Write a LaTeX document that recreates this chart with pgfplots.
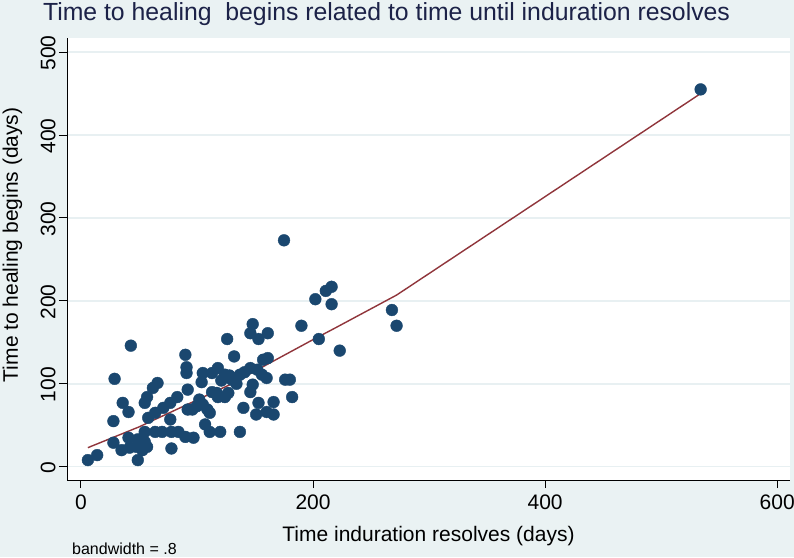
\documentclass[border=0pt]{standalone}
\usepackage{fontspec}
\setmainfont{Liberation Sans}
\usepackage{pgfplots}
\pgfplotsset{compat=1.18}
\definecolor{stbg}{RGB}{234,242,243}
\definecolor{stgrid}{RGB}{232,240,242}
\definecolor{stnavy}{RGB}{26,71,111}
\definecolor{stmaroon}{RGB}{144,53,59}
\definecolor{sttitle}{RGB}{28,34,72}
\begin{document}
\begin{tikzpicture}[x=1pt,y=1pt]
\useasboundingbox (0,0) rectangle (794,557);
\fill[stbg] (0,0) rectangle (794,557);
\begin{axis}[
  at={(67pt,77pt)}, anchor=south west,
  scale only axis, width=723pt, height=442pt,
  xmin=-12, xmax=611, ymin=-16, ymax=517,
  axis background/.style={fill=white},
  axis x line*=bottom, axis y line*=left,
  axis line style={black, line width=0.9pt},
  xtick={0,200,400,600}, ytick={0,100,200,300,400,500},
  tick align=outside, major tick length=8pt,
  tick style={black, line width=0.9pt},
  ymajorgrids, grid style={stgrid, line width=1.5pt},
  /pgf/number format/assume math mode=true,
  tick label style={font=\fontsize{21}{21}\selectfont},
  xticklabel style={yshift=-3pt},
  yticklabel style={rotate=90, anchor=south, xshift=-1pt},
  xlabel={Time induration resolves (days)},
  ylabel={Time to healing begins (days)},
  label style={font=\fontsize{21}{21}\selectfont},
  xlabel style={at={(axis description cs:0.5,-0.138)}, anchor=base},
  ylabel style={at={(axis description cs:-0.068,0.532)}, anchor=base, rotate=0},
]
\addplot[only marks, mark=*, mark size=5.9pt, mark options={fill=stnavy, draw=stnavy}] coordinates {
(6,8) (14,14) (29,106) (28,55) (28,29) (36,77) (41,66) (35,20) (41,35) (42,23)
(43,146) (48,24) (49,33) (49,8) (53,20) (55,30) (55,42) (55,77) (57,84) (57,24)
(58,59) (62,95) (64,65) (64,42) (66,101) (70,42) (71,71) (77,77) (77,57) (78,42)
(78,22) (83,84) (84,42) (90,36) (90,135) (91,113) (91,120) (92,69) (92,93)
(96,69) (97,35) (100,73) (102,81) (104,102) (105,113) (105,75) (107,51) (109,69) (111,65)
(111,42) (113,113) (113,90) (117,89) (118,119) (118,84) (120,42) (121,104) (124,111) (124,84)
(126,154) (127,89) (128,110) (130,105) (132,133) (134,100) (137,111) (137,42) (140,71) (141,114)
(146,119) (146,90) (146,161) (148,99) (148,172) (151,63) (152,117) (153,77) (153,154) (156,111)
(157,129) (160,107) (160,66) (161,131) (161,161) (166,78) (166,63) (175,273) (176,105) (180,105)
(182,84) (190,170) (202,202) (205,154) (211,212) (216,217) (216,196) (223,140) (268,189) (272,170)
(534,455)
};
\addplot[stmaroon, line width=1.4pt] coordinates {
(6,23) (50,48) (90,74) (130,100) (160,123) (197,151) (220,168) (272,207) (534,450)
};
\end{axis}
\node[font=\fontsize{24.8}{26}\selectfont, text=sttitle, anchor=base, inner sep=0pt] at (386.5,536.5) {Time to healing\ \ begins related to time until induration resolves};
\node[font=\fontsize{16}{16}\selectfont, anchor=base west, inner sep=0pt] at (72,2.5) {bandwidth = .8};
\end{tikzpicture}
\end{document}
